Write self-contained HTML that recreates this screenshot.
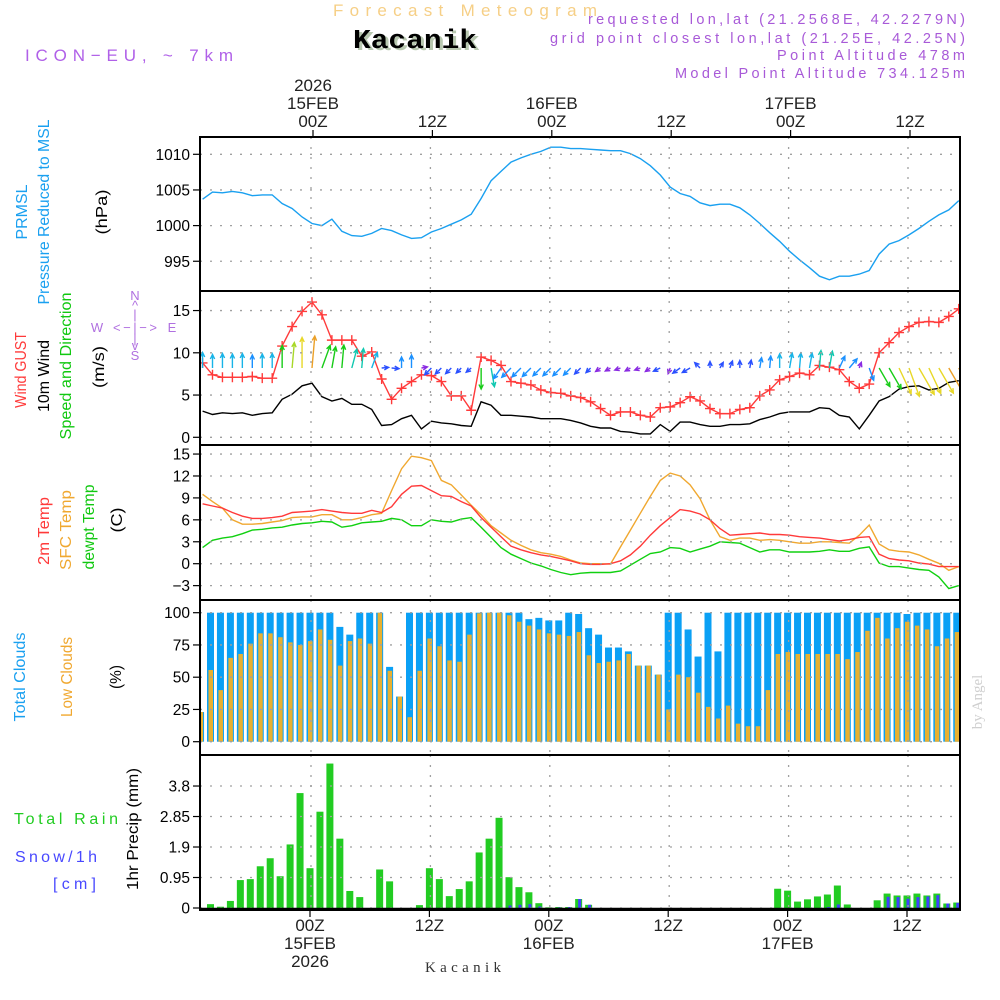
<!DOCTYPE html>
<html><head><meta charset="utf-8"><style>
html,body{margin:0;padding:0;background:#fff}
svg{display:block;font-family:"Liberation Sans",sans-serif}
</style></head><body>
<svg id="chart" width="1000" height="1000" viewBox="0 0 1000 1000" xmlns="http://www.w3.org/2000/svg">
<defs><clipPath id="plotclip"><rect x="200" y="137" width="760" height="773"/></clipPath></defs>
<rect x="0" y="0" width="1000" height="1000" fill="#fff"/>
<text x="333" y="16" font-size="17" fill="#f6cf86" textLength="264" lengthAdjust="spacing">Forecast Meteogram</text>
<text x="356" y="50" font-size="27" font-weight="bold" font-family="Liberation Mono, monospace" fill="#b8c8b0" textLength="124" lengthAdjust="spacingAndGlyphs">Kacanik</text>
<text x="353" y="48" font-size="27" font-weight="bold" font-family="Liberation Mono, monospace" fill="#000" textLength="124" lengthAdjust="spacingAndGlyphs">Kacanik</text>
<text x="25" y="61" font-size="17" fill="#b060e8" textLength="208" lengthAdjust="spacing">ICON−EU, ~ 7km</text>
<text x="965" y="24" font-size="14.5" fill="#a85ad8" text-anchor="end" textLength="377" lengthAdjust="spacing">requested lon,lat (21.2568E, 42.2279N)</text>
<text x="965" y="43" font-size="14.5" fill="#a85ad8" text-anchor="end" textLength="415" lengthAdjust="spacing">grid point closest lon,lat (21.25E, 42.25N)</text>
<text x="965" y="60" font-size="14.5" fill="#a85ad8" text-anchor="end" textLength="188" lengthAdjust="spacing">Point Altitude 478m</text>
<text x="965" y="78" font-size="14.5" fill="#a85ad8" text-anchor="end" textLength="290" lengthAdjust="spacing">Model Point Altitude 734.125m</text>

<g font-size="16">
<text transform="translate(27,212) rotate(-90)" text-anchor="middle" fill="#1aa0f0" textLength="55" lengthAdjust="spacingAndGlyphs">PRMSL</text>
<text transform="translate(49,212) rotate(-90)" text-anchor="middle" fill="#1aa0f0" textLength="185" lengthAdjust="spacingAndGlyphs">Pressure Reduced to MSL</text>
<text transform="translate(107,212) rotate(-90)" text-anchor="middle" fill="#000" textLength="45" lengthAdjust="spacingAndGlyphs">(hPa)</text>
<text transform="translate(26,370) rotate(-90)" text-anchor="middle" fill="#ff3a3a" textLength="76" lengthAdjust="spacingAndGlyphs">Wind GUST</text>
<text transform="translate(49,376) rotate(-90)" text-anchor="middle" fill="#000" textLength="72" lengthAdjust="spacingAndGlyphs">10m Wind</text>
<text transform="translate(71,366) rotate(-90)" text-anchor="middle" fill="#10c810" textLength="147" lengthAdjust="spacingAndGlyphs">Speed and Direction</text>
<text transform="translate(104,367) rotate(-90)" text-anchor="middle" fill="#000" textLength="42" lengthAdjust="spacingAndGlyphs">(m/s)</text>
<text transform="translate(49,531) rotate(-90)" text-anchor="middle" fill="#ff3a3a" textLength="68" lengthAdjust="spacingAndGlyphs">2m Temp</text>
<text transform="translate(71,530) rotate(-90)" text-anchor="middle" fill="#f0a830" textLength="80" lengthAdjust="spacingAndGlyphs">SFC Temp</text>
<text transform="translate(94,527) rotate(-90)" text-anchor="middle" fill="#10c810" textLength="85" lengthAdjust="spacingAndGlyphs">dewpt Temp</text>
<text transform="translate(122,520) rotate(-90)" text-anchor="middle" fill="#000" textLength="25" lengthAdjust="spacingAndGlyphs">(C)</text>
<text transform="translate(25,677) rotate(-90)" text-anchor="middle" fill="#1aa0f0" textLength="89" lengthAdjust="spacingAndGlyphs">Total Clouds</text>
<text transform="translate(72,677) rotate(-90)" text-anchor="middle" fill="#f0a830" textLength="80" lengthAdjust="spacingAndGlyphs">Low Clouds</text>
<text transform="translate(121,677) rotate(-90)" text-anchor="middle" fill="#000" textLength="24" lengthAdjust="spacingAndGlyphs">(%)</text>
<text transform="translate(138,829) rotate(-90)" text-anchor="middle" fill="#000" textLength="122" lengthAdjust="spacingAndGlyphs">1hr Precip (mm)</text>
<text x="14" y="824" fill="#22cc22" textLength="104" lengthAdjust="spacing">Total   Rain</text>
<text x="15" y="862" fill="#4848ff" textLength="82" lengthAdjust="spacing">Snow/1h</text>
<text x="53" y="889" fill="#4848ff" textLength="43" lengthAdjust="spacing">[cm]</text>
</g>
<g font-size="13" fill="#b070e0" text-anchor="middle">
<text x="135" y="300">N</text><text x="135" y="310">^</text><text x="135" y="319">|</text>
<text x="97" y="332">W</text><text x="135" y="332" textLength="44" lengthAdjust="spacing">&lt; − | − &gt;</text><text x="172" y="332">E</text>
<text x="135" y="343">|</text><text x="135" y="350">v</text><text x="135" y="360">S</text>
</g>
<text transform="translate(982,702) rotate(-90)" text-anchor="middle" font-size="15" font-family="Liberation Serif, serif" fill="#cfcfcf">by Angel</text>
<text x="425" y="972" font-size="15" font-family="Liberation Serif, serif" fill="#333" textLength="76" lengthAdjust="spacing">Kacanik</text>
<g id="layer"></g>
</svg>
<script>
const hours = [];
for (let h = -11; h <= 65; h++) hours.push(h);
const pressure = [1003.7,1004.7,1004.6,1004.8,1004.6,1004.2,1004.3,1004.3,1003.1,1002.4,1001.2,1000.3,
1000.0,1000.9,999.2,998.6,998.5,998.9,999.6,999.3,998.7,998.2,998.3,999.1,
999.6,1000.2,1000.8,1001.6,1003.8,1006.3,1007.6,1008.9,1009.5,1010.0,1010.4,1011.0,
1011.0,1010.8,1010.8,1010.7,1010.6,1010.5,1010.5,1010.1,1009.4,1008.4,1007.1,1005.4,
1004.5,1004.1,1003.2,1002.8,1003.0,1003.0,1002.5,1001.5,1000.3,999.0,997.8,996.4,
995.2,994.1,992.9,992.4,992.9,992.9,993.2,993.7,996.0,997.4,997.9,998.7,
999.6,1000.6,1001.5,1002.2,1003.5];
const gust = [8.8,7.4,7.1,7.1,7.1,7.2,7.0,7.0,10.8,13.1,14.9,16.0,
14.5,11.5,11.5,11.5,9.6,10.1,6.9,4.5,5.8,6.6,7.4,7.3,
6.6,4.9,4.9,3.2,9.5,9.1,8.5,6.6,6.4,6.2,5.6,5.3,5.2,4.9,
4.7,4.2,3.4,2.6,3.0,3.0,2.6,2.4,3.5,3.6,4.1,4.8,4.3,3.4,2.8,2.8,3.3,3.5,4.9,5.6,6.8,7.2,7.6,7.4,8.5,8.3,8.0,6.6,5.8,6.3,10.0,11.2,12.4,13.1,13.6,13.7,13.6,14.3,15.2];
const windSpeed = [3.1,2.7,2.9,2.8,2.9,2.6,2.8,2.9,4.5,5.1,6.1,6.4,
4.8,4.3,4.6,3.9,3.9,3.3,1.4,1.5,2.2,2.6,1.0,1.9,
1.7,1.6,1.4,1.3,4.2,3.8,2.6,2.6,2.5,2.4,2.2,2.2,2.2,2.0,1.7,1.3,
1.1,1.1,0.7,0.6,0.4,0.4,1.5,0.7,1.8,1.8,1.5,1.3,1.3,1.5,1.5,1.6,2.1,2.4,2.8,3.0,3.0,3.0,3.5,3.4,2.6,2.4,1.0,2.6,4.3,4.8,5.7,6.0,6.1,5.6,5.8,6.5,6.7];
const windToDir = [0,0,0,0,0,0,0,0,0,5,0,
5,20,10,5,15,5,20,85,95,0,0,80,
225,225,225,225,230,180,170,215,225,225,225,225,225,225,225,225,225,
235,240,250,240,250,235,245,200,235,240,315,0,30,20,0,10,10,5,0,10,5,10,5,10,25,40,20,160,150,150,155,160,150,155,150,150,150];
const temp2m = [8.2,7.9,7.6,7.0,6.5,6.2,6.2,6.3,6.5,7.0,7.1,7.2,
7.4,7.2,7.0,6.9,6.9,7.3,7.0,7.8,9.5,10.6,10.7,10.0,
9.3,9.2,8.5,7.9,6.3,5.0,3.7,2.4,1.9,1.5,1.2,1.0,
0.7,0.4,0.0,-0.1,-0.1,0.0,0.4,1.2,2.4,3.9,5.2,6.3,
7.4,7.2,6.8,6.0,4.8,3.9,4.0,4.1,4.2,4.0,4.0,3.9,
3.7,3.6,3.5,3.3,3.1,3.3,3.6,3.7,1.3,0.7,0.5,0.4,
0.1,-0.05,-0.4,-0.4,-0.4];
const tempSfc = [9.5,8.5,7.6,6.0,5.4,5.4,5.5,5.7,5.9,6.3,6.4,6.4,
6.7,6.7,6.0,6.0,6.3,6.7,6.9,10.0,13.0,14.7,14.5,14.1,
11.4,10.8,9.4,8.0,6.7,5.2,4.2,3.2,2.5,1.9,1.5,1.3,
1.0,0.5,0.1,0.0,0.0,-0.05,2.3,4.6,6.9,9.2,11.4,12.4,
12.0,10.8,8.9,6.0,3.7,3.2,3.5,3.5,3.2,3.3,3.2,3.0,
2.8,2.8,3.0,3.0,2.9,2.8,3.9,5.3,2.7,1.9,1.7,1.6,
1.2,0.6,0.05,-0.9,-0.4];
const tempDew = [2.2,3.2,3.5,3.7,4.1,4.6,4.7,4.9,5.0,5.3,5.5,5.6,
5.8,5.7,5.0,5.2,5.6,5.7,5.8,6.2,6.0,5.2,5.2,6.0,
5.8,5.7,6.1,6.3,5.0,3.6,2.2,1.3,0.7,0.1,-0.3,-0.8,
-1.2,-1.5,-1.3,-1.2,-1.2,-1.2,-1.0,-0.2,0.6,1.4,1.6,2.2,
2.1,1.6,2.0,2.4,3.0,2.9,2.8,2.2,1.6,1.9,1.9,1.6,
1.6,1.6,1.7,1.9,1.7,1.7,2.1,2.3,0.1,-0.4,-0.4,-0.6,
-0.8,-0.9,-1.8,-3.4,-3.0];
const cloudTotal = [23,100,100,100,100,100,100,100,100,100,100,100,
100,100,89,83,100,100,100,58,35,100,
100,100,100,100,100,100,100,100,100,100,100,
95,96,94,94,100,99,88,83,73,73,70,59,59,52,100,100,87,66,100,70,
100,100,100,100,100,100,100,100,100,100,100,100,100,100,100,100,100,100,
99,100,100,100,100,100];
const cloudLow = [23,55.6,40,65,68,76,84,84,81,77,75,78,
87,79,59,78,80,76,100,55,35,19,
55,80,74,63,62,83,99.5,100,100,98,93,
90,87,84,83,82,85,67,61,62,63,68,59,59,52,25,52,50,38,27,18,
28,14,12,12,40,68,69.5,68,68,68,68,68,64,69.5,86,96,80,88,
93,90,87,74,80,85];
const rain = [0,0.12,0.04,0.22,0.87,0.9,1.3,1.55,0.99,1.98,3.58,1.24,
3.0,4.5,2.16,0.53,0.34,0,1.2,0.83,0,0,0.09,1.24,
0.9,0.37,0.59,0.83,1.73,2.16,2.81,0.96,0.65,0.49,0.15,0.02,
0.03,0.03,0.28,0.1,0,0,0,0,0,0,0,0,
0,0,0,0,0,0,0,0,0,0,0.6,0.54,
0.2,0.27,0.36,0.42,0.7,0.11,0,0,0.24,0.45,0.39,0.39,
0.45,0.39,0.45,0.14,0.17];
const snow = [0,0,0,0,0,0,0,0,0,0,0,0,
0,0,0,0,0,0,0,0,0,0,0,0,
0,0,0,0,0,0,0,0.08,0.1,0.12,0.05,0,
0.02,0.03,0.28,0.1,0,0,0,0,0,0,0,0,
0,0,0,0,0,0,0,0,0,0,0,0,
0,0,0,0.03,0.11,0,0,0,0,0.35,0.34,0.29,
0.34,0.36,0.40,0.14,0.16];
const timeTicks = [0,12,24,36,48,60];
const topTickLines = [["2026","15FEB","00Z"],["12Z"],["16FEB","00Z"],["12Z"],["17FEB","00Z"],["12Z"]];
const bottomTickLines = [["00Z","15FEB","2026"],["12Z"],["00Z","16FEB"],["12Z"],["00Z","17FEB"],["12Z"]];
const pressTicks = [995,1000,1005,1010];
const windTicks = [0,5,10,15];
const tempTicks = [-3,0,3,6,9,12,15];
const cloudTicks = [0,25,50,75,100];
const precipTicks = [0,0.95,1.9,2.85,3.8];

const X = t => 311 + 9.95 * t;
const XL = t => X(t) + 1;
const XB = t => X(t) - 1;
const yP = p => 154.3 + (1010 - p) * 7.13;
const yW = v => 437.3 - v * 8.45;
const yT = c => 563.7 - c * 7.31;
const yC = c => 741.7 - c * 1.29;
const yR = m => 908 - m * 32.1;
const panels = [
  {name:'pressure', top:137, bot:291, ticks:pressTicks, y:yP, fmt:v=>String(v)},
  {name:'wind', top:291, bot:445, ticks:windTicks, y:yW, fmt:v=>String(v)},
  {name:'temp', top:445, bot:600, ticks:tempTicks, y:yT, fmt:v=>v<0?'−'+(-v):String(v)},
  {name:'cloud', top:600, bot:755, ticks:cloudTicks, y:yC, fmt:v=>String(v)},
  {name:'precip', top:755, bot:910, ticks:precipTicks, y:yR, fmt:v=>String(v)}
];
const NS = 'http://www.w3.org/2000/svg';
const layer = document.getElementById('layer');
function mk(tag, attrs, parent) {
  const e = document.createElementNS(NS, tag);
  for (const k in attrs) e.setAttribute(k, attrs[k]);
  (parent || layer).appendChild(e);
  return e;
}
function pathFrom(vals, yf) {
  return vals.map((v, i) => (i ? 'L' : 'M') + XL(hours[i]).toFixed(1) + ' ' + yf(v).toFixed(1)).join(' ');
}
const clipG = mk('g', {'clip-path':'url(#plotclip)'});



hours.forEach((t, i) => {
  const b = mk('rect', {x:XB(t)-3.5, y:yC(cloudTotal[i]), width:7, height:yC(0)-yC(cloudTotal[i]), fill:'#0aa0f5'}, clipG);
  
  
  const l = mk('rect', {x:XB(t)-2, y:yC(cloudLow[i]), width:4.5, height:yC(0)-yC(cloudLow[i]), fill:'#e8b030'}, clipG);
  
  
});
hours.forEach((t, i) => {
  if (rain[i] > 0) {
    const r = mk('rect', {x:XB(t)-3.5, y:yR(rain[i]), width:7, height:yR(0)-yR(rain[i]), fill:'#22cc22'}, clipG);
    
    
  }
  if (snow[i] > 0) {
    const s = mk('rect', {x:XB(t)-0.5, y:yR(snow[i]), width:3, height:yR(0)-yR(snow[i]), fill:'#4040ff'}, clipG);
    
    
  }
});

panels.forEach(p => {
  p.ticks.forEach(v => {
    const y = p.y(v);
    const g = mk('line', {x1:200, x2:960, y1:y, y2:y, stroke:'#a0a0a0', 'stroke-width':1.3, 'stroke-dasharray':'2 8'});
    
    
    const tk = mk('line', {x1:193, x2:200, y1:y, y2:y, stroke:'#000', 'stroke-width':1.2});
    
    
    const tx = mk('text', {x:190, y:y+5.5, 'font-size':15.5, 'text-anchor':'end', fill:'#000'});
    
    
    tx.textContent = p.fmt(v);
  });
  timeTicks.forEach(t => {
    const g = mk('line', {x1:X(t), x2:X(t), y1:p.top, y2:p.bot, stroke:'#a0a0a0', 'stroke-width':1.3, 'stroke-dasharray':'2 8'});
    
    
  });
});
timeTicks.forEach((t, k) => {
  const a = mk('line', {x1:X(t)+2, x2:X(t)+2, y1:130, y2:137, stroke:'#000', 'stroke-width':1.2});
  
  
  const b = mk('line', {x1:X(t)-1, x2:X(t)-1, y1:910, y2:917, stroke:'#000', 'stroke-width':1.2});
  
  
  const top = topTickLines[k];
  top.forEach((s, j) => {
    const tx = mk('text', {x:X(t)+2, y:127 - (top.length-1-j)*18, 'font-size':17, 'text-anchor':'middle', fill:'#222'});
    
    
    tx.textContent = s;
  });
  bottomTickLines[k].forEach((s, j) => {
    const tx = mk('text', {x:X(t)-1, y:931 + j*18, 'font-size':17, 'text-anchor':'middle', fill:'#222'});
    
    
    tx.textContent = s;
  });
});

const lineDefs = [
  {vals:pressure, y:yP, c:'#1aa0f0', n:'pressure-line'},
  {vals:windSpeed, y:yW, c:'#000', n:'wind-speed-line'},
  {vals:gust, y:yW, c:'#ff3a3a', n:'gust-line'},
  {vals:tempSfc, y:yT, c:'#f0a830', n:'sfc-temp-line'},
  {vals:temp2m, y:yT, c:'#ff3a3a', n:'temp2m-line'},
  {vals:tempDew, y:yT, c:'#10d010', n:'dewpt-line'}
];
lineDefs.forEach(d => {
  const pth = mk('path', {d:pathFrom(d.vals, d.y), fill:'none', stroke:d.c, 'stroke-width':1.4}, clipG);
  
  
});
hours.forEach((t, i) => {
  const x = XL(t), y = yW(gust[i]);
  const m = mk('path', {d:`M${x-5} ${y}H${x+5}M${x} ${y-5}V${y+5}`, stroke:'#ff3a3a', 'stroke-width':1.4}, clipG);
  
  
});
function speedColor(v) {
  if (v < 1.2) return '#8a2be2';
  if (v < 2.0) return '#2a50ff';
  if (v < 2.7) return '#1a90ff';
  if (v < 3.4) return '#18b4e8';
  if (v < 4.1) return '#10c8b0';
  if (v < 4.9) return '#18cc18';
  if (v < 5.5) return '#a8d828';
  if (v < 6.2) return '#e8d828';
  return '#eba028';
}
hours.forEach((t, i) => {
  const v = windSpeed[i], d = windToDir[i] * Math.PI / 180;
  const L = Math.max(6, 5 * v);
  const x0 = XL(t), y0 = 368;
  const x1 = x0 + L * Math.sin(d), y1 = y0 - L * Math.cos(d);
  const h1 = d + Math.PI - 0.45, h2 = d + Math.PI + 0.45;
  const dd = `M${x0} ${y0}L${x1} ${y1}M${x1+5*Math.sin(h1)} ${y1-5*Math.cos(h1)}L${x1} ${y1}L${x1+5*Math.sin(h2)} ${y1-5*Math.cos(h2)}`;
  const a = mk('path', {d:dd, stroke:speedColor(v), 'stroke-width':1.4, fill:'none'}, clipG);
  
  
});
const zb = mk('line', {x1:200, x2:960, y1:908.5, y2:908.5, stroke:'#000', 'stroke-width':1.6});


panels.forEach(p => {
  const r = mk('rect', {x:200, y:p.top, width:760, height:p.bot-p.top, fill:'none', stroke:'#000', 'stroke-width':2});
  
  
});
</script>
</body></html>
